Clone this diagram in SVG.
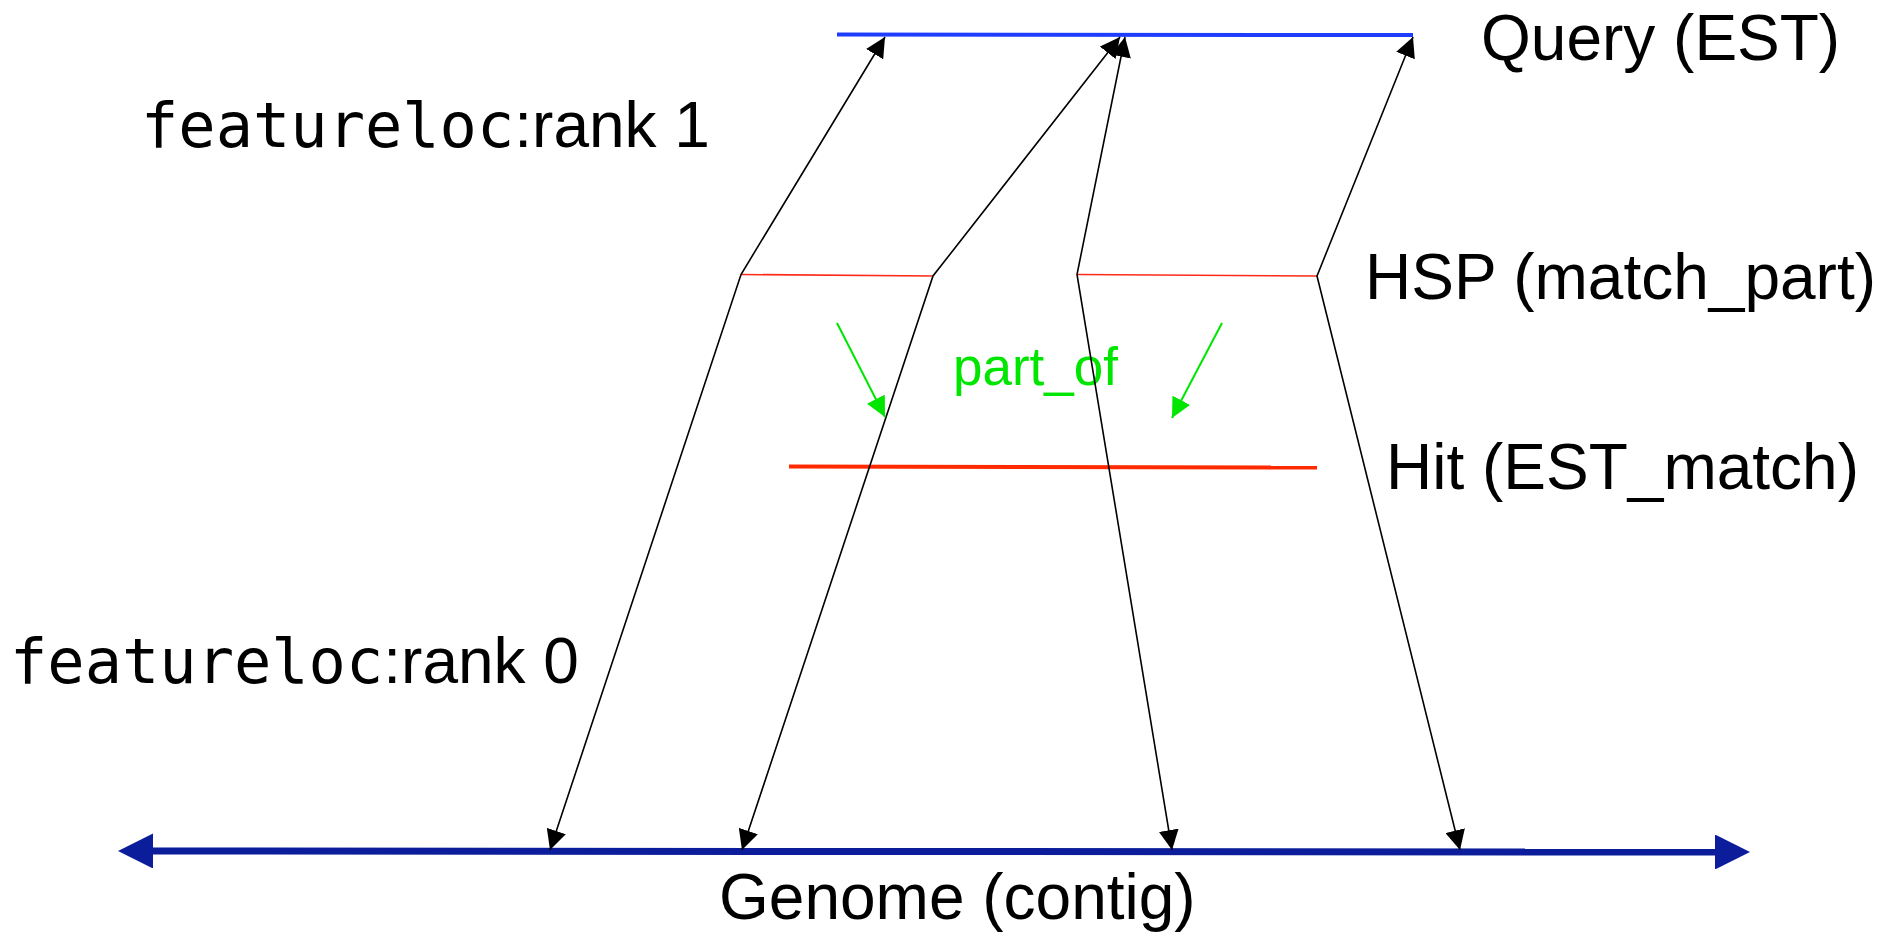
<svg xmlns="http://www.w3.org/2000/svg" width="1896" height="935" viewBox="0 0 1896 935">
<style>
.lbl{font-family:"Liberation Sans",Arial,sans-serif;font-size:64px;fill:#000}
.mono{font-family:"DejaVu Sans Mono",monospace;font-size:62px}
.conn{fill:none;stroke:#000;stroke-width:1.6}
.green{fill:none;stroke:#00e600;stroke-width:2}
</style>
<defs>
<marker id="ah" markerUnits="userSpaceOnUse" viewBox="0 0 20 20" refX="20" refY="10" markerWidth="20" markerHeight="20" orient="auto-start-reverse"><path d="M0,0 L20,10 L0,20 z" fill="#000"/></marker>
<marker id="ahg" markerUnits="userSpaceOnUse" viewBox="0 0 20 20" refX="20" refY="10" markerWidth="20" markerHeight="20" orient="auto"><path d="M0,0 L20,10 L0,20 z" fill="#00e600"/></marker>
<marker id="ahb" markerUnits="userSpaceOnUse" viewBox="0 0 35 35" refX="0" refY="17.5" markerWidth="35" markerHeight="35" orient="auto-start-reverse"><path d="M0,0 L35,17.5 L0,35 z" fill="#0b1d9a"/></marker>
</defs>
<rect width="1896" height="935" fill="#fff"/>
<g id="query">
<line x1="837" y1="34.5" x2="1413" y2="35" stroke="#1f3dff" stroke-width="4"/>
<text class="lbl" x="1481" y="60">Query (EST)</text>
</g>
<g id="hsp">
<line x1="741" y1="274.5" x2="933" y2="276" stroke="#ff2a1a" stroke-width="1.6"/>
<line x1="1077" y1="274.5" x2="1317" y2="276" stroke="#ff2a1a" stroke-width="1.6"/>
<text class="lbl" x="1365" y="299">HSP (match_part)</text>
</g>
<g id="hit">
<line x1="789" y1="466.5" x2="1317" y2="467.5" stroke="#ff2a00" stroke-width="4"/>
<text class="lbl" x="1386" y="489">Hit (EST_match)</text>
</g>
<g id="genome">
<line x1="153" y1="851" x2="1715" y2="852" stroke="#0b1d9a" stroke-width="7" marker-start="url(#ahb)" marker-end="url(#ahb)"/>
<text class="lbl" x="719" y="919">Genome (contig)</text>
</g>
<g id="rank1">
<text class="lbl" x="141" y="147"><tspan class="mono">featureloc</tspan>:rank 1</text>
</g>
<g id="rank0">
<text class="lbl" x="10" y="683"><tspan class="mono">featureloc</tspan>:rank 0</text>
</g>
<g id="partof">
<text x="953" y="385" style="font-family:'Liberation Sans',Arial,sans-serif;font-size:53px;fill:#00e600">part_of</text>
</g>
<g id="connectors">
<polyline class="conn" points="885,37 741,274.5 550,850" marker-start="url(#ah)" marker-end="url(#ah)"/>
<polyline class="conn" points="1120,37 933,276 742,850" marker-start="url(#ah)" marker-end="url(#ah)"/>
<polyline class="conn" points="1125,37 1077,274.5 1172,850" marker-start="url(#ah)" marker-end="url(#ah)"/>
<polyline class="conn" points="1413,37 1317,276 1460,850" marker-start="url(#ah)" marker-end="url(#ah)"/>
<line class="green" x1="837" y1="323" x2="885" y2="417" marker-end="url(#ahg)"/>
<line class="green" x1="1222" y1="323" x2="1172" y2="418" marker-end="url(#ahg)"/>
</g>
</svg>
